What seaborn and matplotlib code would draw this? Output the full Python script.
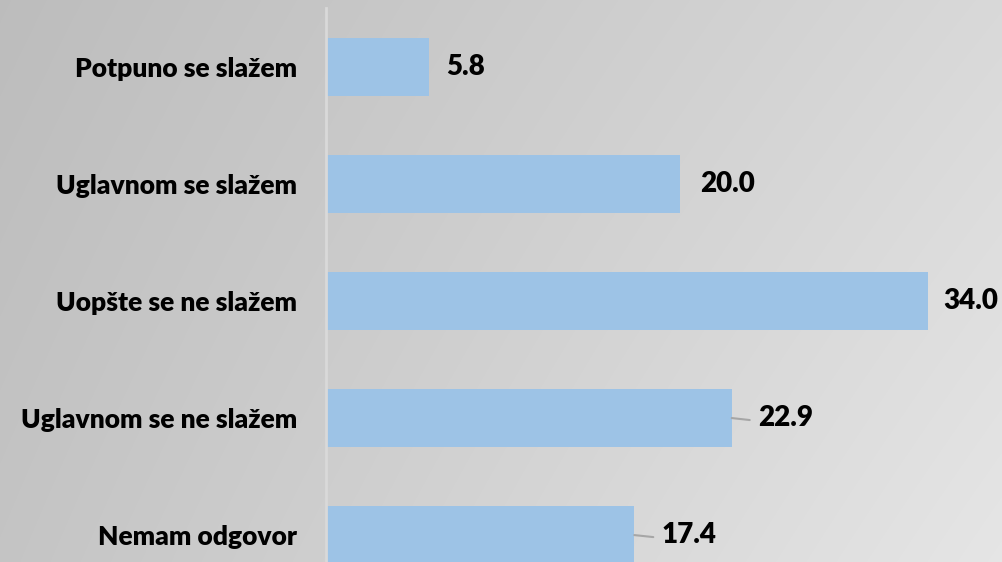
import numpy as np
import pandas as pd
import matplotlib
matplotlib.use("Agg")
import matplotlib.pyplot as plt
import seaborn as sns

# podaci
kategorije = ["Potpuno se slažem", "Uglavnom se slažem", "Uopšte se ne slažem",
              "Uglavnom se ne slažem", "Nemam odgovor"]
vrijednosti = [5.8, 20.0, 34.0, 22.9, 17.4]
oznake = ["5.8", "20.0", "34.0", "22.9", "17.4"]

# stil
sns.set_style("white")
plt.rcParams["font.family"] = ["Lato", "DejaVu Sans"]
boja_stupca = "#9DC3E6"
label_pomak = [17, 20, 15, 26, 27]   # razmak oznake od kraja stupca (px)
sa_linijom = [False, False, False, True, True]

df = pd.DataFrame({"kategorija": kategorije, "vrijednost": vrijednosti})

fig = plt.figure(figsize=(10.02, 5.62), dpi=100)

# pozadina - sivi gradijent (tamnije lijevo, svjetlije desno dolje)
bg = fig.add_axes([0, 0, 1, 1], zorder=-1)
h, w = 562, 1002
yy, xx = np.mgrid[0:h, 0:w]
X = xx / w
Y = yy / h
img = 0.74 + 0.11 * X + 0.03 * Y + 0.02 * X * Y
bg.imshow(np.dstack([img, img, img]), aspect="auto", extent=[0, 1, 0, 1],
          interpolation="bilinear")
bg.axis("off")

# glavni graf
ax = fig.add_axes([0.3253, 0.0, 0.6747, 0.985])
ax.patch.set_alpha(0)
sns.barplot(data=df, x="vrijednost", y="kategorija", color=boja_stupca,
            width=0.5, saturation=1, ax=ax, orient="h", linewidth=0,
            edgecolor="none")

ax.set_xlim(0, 38.15)
ax.set_ylim(4.23, -0.5)
ax.set_xlabel("")
ax.set_ylabel("")
ax.set_xticks([])
for s in ["top", "right", "bottom"]:
    ax.spines[s].set_visible(False)
ax.spines["left"].set_color("#d9d9d9")
ax.spines["left"].set_linewidth(2)
ax.tick_params(axis="y", length=0, pad=21)
for t in ax.get_yticklabels():
    t.set_fontsize(19)
    t.set_fontweight("heavy")
    t.set_color("black")

for i, (v, txt) in enumerate(zip(vrijednosti, oznake)):
    off = label_pomak[i]
    ax.annotate(txt, xy=(v, i), xytext=(off, 0), textcoords="offset pixels",
                ha="left", va="center", fontsize=20, fontweight="heavy",
                color="black")
    if sa_linijom[i]:
        ax.annotate("", xy=(v, i), xytext=(off - 8, -2), textcoords="offset pixels",
                    arrowprops=dict(arrowstyle="-", color="#a6a6a6", lw=1.5,
                                    shrinkA=0, shrinkB=0))

fig.savefig("out.png", dpi=100)
